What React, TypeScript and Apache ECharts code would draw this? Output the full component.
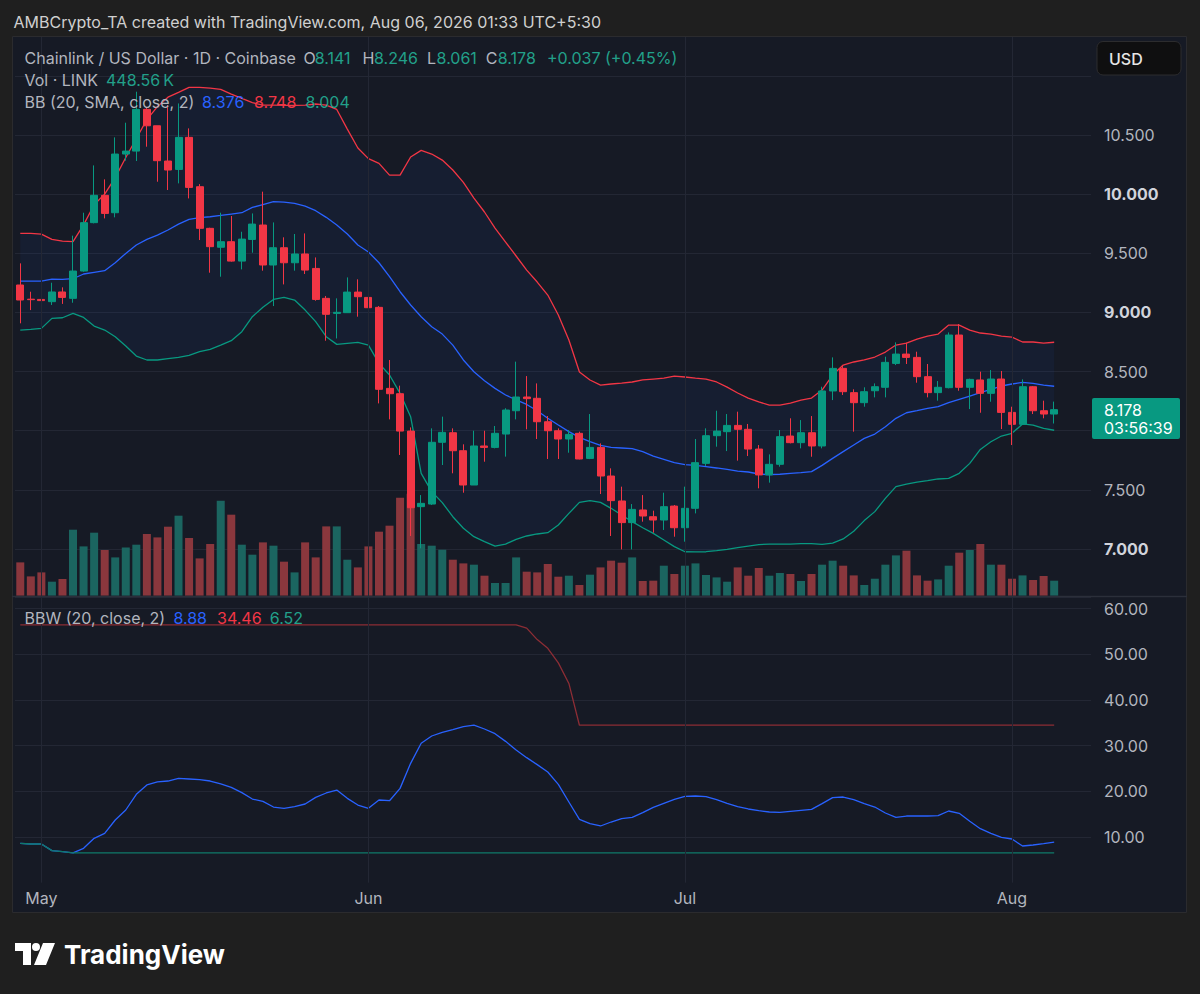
import React, { useEffect, useRef } from "react";
import * as echarts from "echarts";

// ---------------- DATA ----------------
const opens = [
  9.232, 9.112, 9.110, 9.091, 9.173, 9.119, 9.350, 9.759, 9.990, 9.843,
  10.339, 10.364, 10.717, 10.578, 10.280, 10.209, 10.480, 10.063, 9.711, 9.551,
  9.598, 9.434, 9.617, 9.739, 9.401, 9.547, 9.420, 9.494, 9.372, 9.119,
  8.992, 8.998, 9.172, 9.127, 9.043, 8.358, 8.313, 7.997, 7.358, 7.380,
  7.902, 7.983, 7.831, 7.541, 7.871, 7.859, 7.972, 8.169, 8.285, 8.274,
  8.076, 8.000, 7.930, 7.978, 7.766, 7.859, 7.617, 7.406, 7.223, 7.330,
  7.273, 7.245, 7.363, 7.180, 7.344, 7.724, 7.958, 7.992, 8.045, 8.012,
  7.845, 7.626, 7.716, 7.955, 7.899, 7.983, 7.871, 8.336, 8.527, 8.322,
  8.237, 8.338, 8.367, 8.569, 8.648, 8.620, 8.457, 8.322, 8.364, 8.809,
  8.367, 8.429, 8.316, 8.437, 8.155, 8.054, 8.372, 8.169, 8.141,
];
const highs = [
  9.415, 9.175, 9.268, 9.251, 9.212, 9.649, 9.843, 10.243, 10.125, 10.480,
  10.604, 10.866, 10.733, 10.578, 10.753, 10.767, 10.556, 10.085, 9.716, 9.843,
  9.815, 9.682, 9.837, 10.021, 9.761, 9.635, 9.663, 9.668, 9.465, 9.139,
  9.119, 9.296, 9.280, 9.195, 9.054, 8.598, 8.381, 8.028, 7.456, 8.020,
  8.119, 8.020, 7.885, 8.000, 8.000, 8.040, 8.190, 8.584, 8.462, 8.400,
  8.124, 8.020, 8.006, 7.992, 8.141, 7.893, 7.682, 7.527, 7.380, 7.456,
  7.324, 7.476, 7.372, 7.527, 7.930, 8.020, 8.169, 8.141, 8.161, 8.057,
  7.879, 7.800, 8.006, 8.105, 8.090, 8.124, 8.372, 8.620, 8.547, 8.350,
  8.367, 8.400, 8.626, 8.747, 8.744, 8.668, 8.564, 8.420, 8.831, 8.902,
  8.440, 8.499, 8.513, 8.505, 8.203, 8.434, 8.378, 8.254, 8.246,
];
const lows = [
  8.908, 9.020, 9.063, 9.063, 9.072, 9.082, 9.344, 9.753, 9.795, 9.804,
  10.283, 10.280, 10.401, 10.105, 10.035, 10.091, 9.964, 9.612, 9.336, 9.302,
  9.429, 9.364, 9.505, 9.353, 9.054, 9.237, 9.353, 9.325, 9.099, 8.761,
  8.780, 8.998, 8.964, 8.837, 8.231, 8.096, 7.795, 7.110, 7.006, 7.372,
  7.710, 7.640, 7.476, 7.541, 7.738, 7.851, 7.781, 8.096, 8.012, 7.930,
  7.761, 7.761, 7.814, 7.758, 7.760, 7.465, 7.110, 6.997, 6.997, 7.231,
  7.138, 7.161, 7.104, 7.062, 7.301, 7.702, 7.865, 7.828, 7.747, 7.786,
  7.513, 7.561, 7.696, 7.893, 7.851, 7.780, 7.851, 8.259, 8.302, 7.992,
  8.203, 8.282, 8.282, 8.555, 8.564, 8.406, 8.282, 8.254, 8.358, 8.338,
  8.183, 8.152, 8.245, 8.014, 7.879, 8.048, 8.141, 8.105, 8.061,
];
const closes = [
  9.105, 9.108, 9.100, 9.173, 9.127, 9.350, 9.759, 9.990, 9.837, 10.339,
  10.364, 10.717, 10.578, 10.283, 10.204, 10.480, 10.057, 9.711, 9.556, 9.598,
  9.434, 9.620, 9.747, 9.401, 9.547, 9.420, 9.494, 9.358, 9.110, 8.984,
  9.001, 9.172, 9.133, 9.040, 8.350, 8.313, 7.997, 7.349, 7.386, 7.902,
  7.986, 7.831, 7.541, 7.871, 7.859, 7.978, 8.175, 8.285, 8.271, 8.076,
  8.000, 7.930, 7.969, 7.761, 7.859, 7.617, 7.409, 7.223, 7.335, 7.279,
  7.245, 7.358, 7.180, 7.344, 7.730, 7.958, 7.997, 8.045, 8.012, 7.845,
  7.626, 7.716, 7.950, 7.899, 7.983, 7.871, 8.336, 8.527, 8.330, 8.237,
  8.330, 8.372, 8.578, 8.648, 8.620, 8.457, 8.322, 8.367, 8.809, 8.367,
  8.434, 8.316, 8.437, 8.155, 8.054, 8.372, 8.169, 8.141, 8.178,
];
// volume in thousands of LINK
const volumes = [
  996, 577, 697, 419, 499, 1973, 1474, 1884, 1366, 1145,
  1444, 1525, 1845, 1743, 2063, 2392, 1725, 1115, 1546, 2841,
  2422, 1525, 1226, 1594, 1495, 1017, 697, 1594, 1145, 2072,
  2072, 1076, 846, 1474, 1914, 2093, 2930, 3050, 1546, 1495,
  1375, 1076, 966, 927, 598, 380, 380, 1145, 718, 697,
  948, 568, 598, 320, 628, 846, 1047, 987, 1145, 440,
  449, 897, 649, 897, 966, 619, 547, 419, 846, 598,
  828, 598, 679, 649, 440, 649, 927, 1047, 897, 607,
  320, 508, 927, 1205, 1346, 607, 449, 487, 897, 1286,
  1366, 1546, 927, 927, 508, 607, 469, 589, 448.56,
];
const bbUpper = [
  9.668, 9.668, 9.662, 9.618, 9.603, 9.598, 9.740, 9.910, 10.000, 10.140,
  10.310, 10.470, 10.630, 10.740, 10.820, 10.860, 10.903, 10.903, 10.897, 10.886,
  10.846, 10.810, 10.773, 10.753, 10.753, 10.750, 10.750, 10.753, 10.762, 10.753,
  10.716, 10.550, 10.390, 10.300, 10.260, 10.161, 10.161, 10.314, 10.370, 10.339,
  10.288, 10.204, 10.100, 9.967, 9.849, 9.713, 9.595, 9.477, 9.358, 9.257,
  9.147, 8.978, 8.767, 8.496, 8.429, 8.386, 8.395, 8.403, 8.412, 8.429,
  8.437, 8.445, 8.462, 8.454, 8.445, 8.437, 8.412, 8.369, 8.319, 8.276,
  8.243, 8.217, 8.217, 8.234, 8.259, 8.276, 8.344, 8.471, 8.555, 8.581,
  8.598, 8.623, 8.665, 8.724, 8.741, 8.775, 8.800, 8.817, 8.893, 8.893,
  8.851, 8.826, 8.817, 8.800, 8.792, 8.750, 8.750, 8.741, 8.748,
];
const bbMiddle = [
  9.265, 9.265, 9.265, 9.282, 9.279, 9.285, 9.325, 9.339, 9.353, 9.420,
  9.499, 9.570, 9.618, 9.654, 9.697, 9.747, 9.787, 9.801, 9.809, 9.820,
  9.832, 9.843, 9.888, 9.911, 9.936, 9.933, 9.922, 9.899, 9.860, 9.804,
  9.739, 9.663, 9.570, 9.511, 9.420, 9.302, 9.175, 9.063, 8.964, 8.879,
  8.817, 8.724, 8.598, 8.499, 8.423, 8.358, 8.302, 8.260, 8.222, 8.169,
  8.105, 8.048, 7.992, 7.944, 7.907, 7.876, 7.859, 7.854, 7.848, 7.823,
  7.786, 7.758, 7.730, 7.713, 7.707, 7.696, 7.685, 7.673, 7.659, 7.651,
  7.634, 7.628, 7.632, 7.640, 7.645, 7.654, 7.707, 7.766, 7.823, 7.879,
  7.935, 7.972, 8.034, 8.105, 8.152, 8.169, 8.189, 8.203, 8.237, 8.265,
  8.293, 8.322, 8.350, 8.378, 8.395, 8.409, 8.400, 8.386, 8.376,
];
const bbLower = [
  8.851, 8.857, 8.865, 8.950, 8.955, 8.992, 8.958, 8.885, 8.851, 8.795,
  8.716, 8.631, 8.598, 8.598, 8.609, 8.620, 8.637, 8.668, 8.688, 8.724,
  8.761, 8.837, 8.964, 9.043, 9.110, 9.127, 9.105, 9.020, 8.922, 8.795,
  8.730, 8.739, 8.747, 8.724, 8.569, 8.471, 8.316, 8.119, 7.640, 7.485,
  7.392, 7.273, 7.175, 7.104, 7.062, 7.025, 7.042, 7.082, 7.110, 7.127,
  7.138, 7.203, 7.301, 7.394, 7.409, 7.394, 7.344, 7.287, 7.231, 7.180,
  7.132, 7.076, 7.020, 6.977, 6.975, 6.977, 6.986, 6.997, 7.011, 7.025,
  7.037, 7.042, 7.042, 7.042, 7.045, 7.045, 7.040, 7.050, 7.085, 7.150,
  7.240, 7.316, 7.428, 7.527, 7.549, 7.566, 7.578, 7.592, 7.597, 7.640,
  7.724, 7.842, 7.907, 7.955, 7.978, 8.057, 8.048, 8.020, 8.004,
];
const bbwValues = [
  8.61, 8.47, 8.47, 7.01, 6.79, 6.52, 7.52, 9.71, 10.80, 13.72,
  15.91, 19.34, 21.38, 22.04, 22.25, 22.84, 22.69, 22.55, 22.25, 21.60,
  20.87, 19.70, 18.31, 17.80, 16.56, 16.27, 16.64, 17.22, 18.68, 19.63,
  20.28, 18.46, 17.00, 16.27, 18.10, 17.94, 20.64, 26.12, 30.50, 32.10,
  32.90, 33.48, 34.14, 34.46, 33.63, 32.61, 30.93, 29.04, 27.36, 25.83,
  24.22, 21.52, 17.66, 13.87, 12.92, 12.41, 13.28, 14.01, 14.30, 15.33,
  16.49, 17.37, 18.24, 18.90, 18.97, 18.83, 18.17, 17.37, 16.64, 16.13,
  15.76, 15.47, 15.40, 15.62, 15.84, 16.05, 17.29, 18.61, 18.75, 18.17,
  17.29, 16.56, 15.25, 14.30, 14.59, 14.59, 14.59, 14.67, 15.69, 15.18,
  13.43, 11.82, 10.80, 9.93, 9.56, 8.03, 8.25, 8.54, 8.88,
];
const bbwHighestExpansion = [
  56.4, 56.4, 56.4, 56.4, 56.4, 56.4, 56.4, 56.4, 56.4, 56.4,
  56.4, 56.4, 56.4, 56.4, 56.4, 56.4, 56.4, 56.4, 56.4, 56.4,
  56.4, 56.4, 56.4, 56.4, 56.4, 56.4, 56.4, 56.4, 56.4, 56.4,
  56.4, 56.4, 56.4, 56.4, 56.4, 56.4, 56.4, 56.4, 56.4, 56.4,
  56.4, 56.4, 56.4, 56.4, 56.4, 56.4, 56.4, 56.4, 55.7, 53.2,
  51.3, 48.1, 43.6, 34.46, 34.46, 34.46, 34.46, 34.46, 34.46, 34.46,
  34.46, 34.46, 34.46, 34.46, 34.46, 34.46, 34.46, 34.46, 34.46, 34.46,
  34.46, 34.46, 34.46, 34.46, 34.46, 34.46, 34.46, 34.46, 34.46, 34.46,
  34.46, 34.46, 34.46, 34.46, 34.46, 34.46, 34.46, 34.46, 34.46, 34.46,
  34.46, 34.46, 34.46, 34.46, 34.46, 34.46, 34.46, 34.46, 34.46,
];
const bbwLowestContraction = [
  8.61, 8.47, 8.47, 7.01, 6.79, 6.52, 6.52, 6.52, 6.52, 6.52,
  6.52, 6.52, 6.52, 6.52, 6.52, 6.52, 6.52, 6.52, 6.52, 6.52,
  6.52, 6.52, 6.52, 6.52, 6.52, 6.52, 6.52, 6.52, 6.52, 6.52,
  6.52, 6.52, 6.52, 6.52, 6.52, 6.52, 6.52, 6.52, 6.52, 6.52,
  6.52, 6.52, 6.52, 6.52, 6.52, 6.52, 6.52, 6.52, 6.52, 6.52,
  6.52, 6.52, 6.52, 6.52, 6.52, 6.52, 6.52, 6.52, 6.52, 6.52,
  6.52, 6.52, 6.52, 6.52, 6.52, 6.52, 6.52, 6.52, 6.52, 6.52,
  6.52, 6.52, 6.52, 6.52, 6.52, 6.52, 6.52, 6.52, 6.52, 6.52,
  6.52, 6.52, 6.52, 6.52, 6.52, 6.52, 6.52, 6.52, 6.52, 6.52,
  6.52, 6.52, 6.52, 6.52, 6.52, 6.52, 6.52, 6.52, 6.52,
];
const priceTicks = [7, 7.5, 8, 8.5, 9, 9.5, 10, 10.5, 11];
const bbwTicks = [10, 20, 30, 40, 50, 60];
const monthNames = ["Jan", "Feb", "Mar", "Apr", "May", "Jun", "Jul", "Aug", "Sep", "Oct", "Nov", "Dec"];
const titleText = "AMBCrypto_TA created with TradingView.com, Aug 06, 2026 01:33 UTC+5:30";
const symbolText = "Chainlink / US Dollar · 1D · Coinbase";
const countdownText = "03:56:39";

// daily categories: first candle Apr 29 2026, plus 3 empty days of right margin
const START_UTC = Date.UTC(2026, 3, 29);
const EMPTY_RIGHT = 3;
const dates: string[] = [];
for (let i = 0; i < closes.length + EMPTY_RIGHT; i++) {
  dates.push(new Date(START_UTC + i * 86400000).toISOString().slice(0, 10));
}
const monthStarts = dates.filter((d) => d.endsWith("-01"));

// ---------------- LAYOUT / STYLE ----------------
const W = 1200;
const H = 994;
const FONT = "Inter, 'Noto Sans', sans-serif";
const FS = 16;
const OUTER = "#1f1f1f";
const PANEL_BG = "#161a25";
const GRID = "#232734";
const TEXT = "#b2b5be";
const TEXT_BRIGHT = "#d1d4dc";
const UP = "#089981";
const DOWN = "#f23645";
const LEG_GREEN = "#22a08a";
const BLUE = "#2962ff";
const VOL_UP = "#1b6560";
const VOL_DOWN = "#8a373d";
const BAND_FILL = "rgba(41,98,255,0.06)";

const PLOT_LEFT = 15;
const CAT_W = 10.55;
const PLOT_W = CAT_W * dates.length;
const PRICE_MIN = 6.5;
const PRICE_MAX = 11.337;
const PRICE_PX = 118.286;
const PRICE_TOP = 36;
const PRICE_H = (PRICE_MAX - PRICE_MIN) * PRICE_PX;
const VOL_TOP = 395;
const VOL_H = 200.7;
const VOL_MAX = 6000;
const BBW_TOP = 597;
const BBW_BOTTOM = 882.7;
const BBW_PX = 4.57;
const BBW_H = BBW_BOTTOM - BBW_TOP;
const BBW_MAX = BBW_H / BBW_PX;
const LABEL_CLEARANCE_PX = 26; // axis labels hidden behind the last-price label
const BUTTON_CLEARANCE_PX = 48; // axis labels hidden behind the currency button

const LOGO_PATH =
  "M0 0H16V22H8V8H0Z M28 0H40L31 22H19Z M25 4A4 4 0 1 1 17 4A4 4 0 1 1 25 4Z";

const last = closes.length - 1;
const fmt3 = (v: number) => v.toFixed(3);

function monthLines() {
  return {
    silent: true,
    symbol: ["none", "none"],
    label: { show: false },
    emphasis: { disabled: true },
    lineStyle: { color: GRID, width: 1, type: "solid" },
    data: monthStarts.map((d) => ({ xAxis: d })),
  };
}

function buildOption(): any {
  const candleData = opens.map((o, i) => [o, closes[i], lows[i], highs[i]]);
  const bandThickness = bbUpper.map((u, i) => +(u - bbLower[i]).toFixed(4));
  const volData = volumes.map((v, i) => ({
    value: v,
    itemStyle: { color: closes[i] >= opens[i] ? VOL_UP : VOL_DOWN },
  }));
  const lineSeries = (name: string, data: number[], color: string, xi: number, z = 3) => ({
    name,
    type: "line",
    xAxisIndex: xi,
    yAxisIndex: xi,
    data,
    symbol: "none",
    silent: true,
    z,
    lineStyle: { color, width: 1.3 },
  });
  const xAxis = [0, 1, 2].map((i) => ({
    type: "category",
    gridIndex: i,
    data: dates,
    boundaryGap: true,
    axisLine: { show: false },
    axisTick: { show: false },
    splitLine: { show: false },
    axisLabel:
      i === 2
        ? {
            show: true,
            margin: 7,
            fontSize: FS,
            fontFamily: FONT,
            color: TEXT,
            interval: (_idx: number, value: string) => value.endsWith("-01"),
            formatter: (value: string) => monthNames[Number(value.slice(5, 7)) - 1],
          }
        : { show: false },
  }));
  return {
    animation: false,
    backgroundColor: PANEL_BG,
    grid: [
      { left: PLOT_LEFT, width: PLOT_W, top: PRICE_TOP, height: PRICE_H },
      { left: PLOT_LEFT, width: PLOT_W, top: VOL_TOP, height: VOL_H },
      { left: PLOT_LEFT, width: PLOT_W, top: BBW_TOP, height: BBW_H },
    ],
    xAxis,
    yAxis: [
      {
        type: "value",
        gridIndex: 0,
        position: "right",
        min: PRICE_MIN,
        max: PRICE_MAX,
        interval: 0.5,
        axisLine: { show: false },
        axisTick: { show: false },
        splitLine: { show: true, showMinLine: false, lineStyle: { color: GRID, width: 1 } },
        axisLabel: {
          margin: 13,
          fontSize: FS,
          fontFamily: FONT,
          color: TEXT,
          formatter: (v: number) => {
            const t = priceTicks.find((p) => Math.abs(p - v) < 1e-6);
            if (t === undefined) return "";
            if (Math.abs(t - closes[last]) * PRICE_PX < LABEL_CLEARANCE_PX) return "";
            if ((PRICE_MAX - t) * PRICE_PX < BUTTON_CLEARANCE_PX) return "";
            return Number.isInteger(t) ? `{b|${fmt3(t)}}` : `{n|${fmt3(t)}}`;
          },
          rich: {
            b: { fontWeight: "bold", color: TEXT_BRIGHT, fontSize: FS, fontFamily: FONT },
            n: { color: TEXT, fontSize: FS, fontFamily: FONT },
          },
        },
      },
      { type: "value", gridIndex: 1, min: 0, max: VOL_MAX, show: false },
      {
        type: "value",
        gridIndex: 2,
        position: "right",
        min: 0,
        max: BBW_MAX,
        interval: 10,
        axisLine: { show: false },
        axisTick: { show: false },
        splitLine: { show: true, showMinLine: false, lineStyle: { color: GRID, width: 1 } },
        axisLabel: {
          margin: 13,
          fontSize: FS,
          fontFamily: FONT,
          color: TEXT,
          formatter: (v: number) => {
            const t = bbwTicks.find((p) => Math.abs(p - v) < 1e-6);
            return t === undefined ? "" : t.toFixed(2);
          },
        },
      },
    ],
    series: [
      {
        name: "bandBase",
        type: "line",
        xAxisIndex: 0,
        yAxisIndex: 0,
        data: bbLower,
        stack: "band",
        symbol: "none",
        silent: true,
        z: 1,
        lineStyle: { opacity: 0 },
        markLine: monthLines(),
      },
      {
        name: "bandFill",
        type: "line",
        xAxisIndex: 0,
        yAxisIndex: 0,
        data: bandThickness,
        stack: "band",
        symbol: "none",
        silent: true,
        z: 1,
        lineStyle: { opacity: 0 },
        areaStyle: { color: BAND_FILL, opacity: 1 },
      },
      {
        name: "Volume",
        type: "bar",
        xAxisIndex: 1,
        yAxisIndex: 1,
        data: volData,
        barWidth: 8,
        silent: true,
        z: 2,
      },
      lineSeries("BB upper", bbUpper, DOWN, 0),
      lineSeries("BB basis", bbMiddle, BLUE, 0),
      lineSeries("BB lower", bbLower, UP, 0),
      {
        name: "LINKUSD",
        type: "candlestick",
        xAxisIndex: 0,
        yAxisIndex: 0,
        data: candleData,
        barWidth: 7.5,
        silent: true,
        z: 4,
        itemStyle: {
          color: UP,
          color0: DOWN,
          borderColor: UP,
          borderColor0: DOWN,
          borderWidth: 1,
        },
      },
      {
        name: "bbwGrid",
        type: "line",
        xAxisIndex: 2,
        yAxisIndex: 2,
        data: bbwValues,
        symbol: "none",
        silent: true,
        z: 1,
        lineStyle: { opacity: 0 },
        markLine: monthLines(),
      },
      lineSeries("Highest Expansion", bbwHighestExpansion, "#8c2d35", 2),
      lineSeries("BBW", bbwValues, BLUE, 2),
      lineSeries("Lowest Contraction", bbwLowestContraction, "#0f7a6a", 2),
    ],
  };
}

function txt(text: string, x: number, y: number, fill: string, extra: any = {}) {
  return {
    type: "text",
    x,
    y,
    z: 100,
    silent: true,
    style: {
      text,
      fill,
      fontSize: FS,
      fontFamily: FONT,
      align: "left",
      textAlign: "left",
      verticalAlign: "middle",
      textVerticalAlign: "middle",
      ...extra,
    },
  };
}

function buildGraphics(yLast: number): any[] {
  const chg = closes[last] - closes[last - 1];
  const pct = (chg / closes[last - 1]) * 100;
  const sign = chg >= 0 ? "+" : "-";
  const chgText = `${sign}${Math.abs(chg).toFixed(3)} (${sign}${Math.abs(pct).toFixed(2)}%)`;
  const valColor = chg >= 0 ? LEG_GREEN : DOWN;
  const outerRect = (x: number, y: number, w: number, h: number) => ({
    type: "rect",
    z: 90,
    silent: true,
    shape: { x, y, width: w, height: h },
    style: { fill: OUTER },
  });
  return [
    outerRect(0, 0, W, 36),
    outerRect(0, 913, W, H - 913),
    outerRect(0, 0, 12, H),
    outerRect(1187, 0, W - 1187, H),
    {
      type: "rect",
      z: 91,
      silent: true,
      shape: { x: 12.5, y: 36.5, width: 1174, height: 876 },
      style: { fill: "none", stroke: "#2b2b2e", lineWidth: 1 },
    },
    {
      type: "line",
      z: 91,
      silent: true,
      shape: { x1: 12, y1: 596.5, x2: 1187, y2: 596.5 },
      style: { stroke: "#2b2f3a", lineWidth: 1.5 },
    },
    txt(titleText, 13.5, 21.5, "#d0d0d0"),
    // main legend
    txt(symbolText, 24.5, 58, TEXT),
    txt("O", 303.6, 58, TEXT),
    txt(fmt3(opens[last]), 314.7, 58, valColor),
    txt("H", 362.5, 58, TEXT),
    txt(fmt3(highs[last]), 374, 58, valColor),
    txt("L", 427, 58, TEXT),
    txt(fmt3(lows[last]), 436.6, 58, valColor),
    txt("C", 485.7, 58, TEXT),
    txt(fmt3(closes[last]), 497.8, 58, valColor),
    txt(chgText, 547, 58, valColor),
    txt("Vol · LINK", 24.5, 80, TEXT),
    txt(`${volumes[last].toFixed(2)}\u2009K`, 106, 80, valColor),
    txt("BB (20, SMA, close, 2)", 24.5, 102, TEXT),
    txt(fmt3(bbMiddle[last]), 202, 102, BLUE),
    txt(fmt3(bbUpper[last]), 254, 102, DOWN),
    txt(fmt3(bbLower[last]), 305.5, 102, LEG_GREEN),
    // BBW legend
    txt("BBW (20, close, 2)", 24.5, 618, TEXT),
    txt(bbwValues[last].toFixed(2), 173.4, 618, BLUE),
    txt(bbwHighestExpansion[last].toFixed(2), 217, 618, DOWN),
    txt(bbwLowestContraction[last].toFixed(2), 269.8, 618, LEG_GREEN),
    // currency button
    {
      type: "rect",
      z: 100,
      silent: true,
      shape: { x: 1097, y: 41.5, width: 84, height: 33.5, r: 6 },
      style: { fill: "#0f0f10", stroke: "#2c2c2e", lineWidth: 1 },
    },
    txt("USD", 1109, 58.5, "#e6e6e6", { fontWeight: 500 }),
    // last price label
    {
      type: "rect",
      z: 100,
      silent: true,
      shape: { x: 1092, y: yLast - 11.6, width: 88, height: 41, r: 2 },
      style: { fill: UP },
    },
    txt(fmt3(closes[last]), 1104, yLast, "#ffffff"),
    txt(countdownText, 1104, yLast + 18.5, "#ffffff"),
    // TradingView watermark
    {
      type: "tvLogo",
      x: 15,
      y: 943,
      z: 100,
      silent: true,
      shape: {},
      style: { fill: "#ffffff" },
    },
    txt("TradingView", 64, 954.5, "#ffffff", { fontSize: 26, fontWeight: "bold" }),
  ];
}

export default function App() {
  const ref = useRef<HTMLDivElement>(null);
  useEffect(() => {
    if (!ref.current) return;
    echarts.graphic.registerShape("tvLogo", echarts.graphic.extendPath(LOGO_PATH, {}) as any);
    const chart = echarts.init(ref.current, null, { renderer: "svg", width: W, height: H });
    chart.setOption(buildOption());
    const yLast = chart.convertToPixel({ yAxisIndex: 0 } as any, closes[last]) as unknown as number;
    chart.setOption({ graphic: { elements: buildGraphics(yLast) } });
    return () => chart.dispose();
  }, []);
  return (
    <div
      ref={ref}
      style={{ position: "absolute", left: 0, top: 0, width: W, height: H, background: OUTER }}
    />
  );
}
